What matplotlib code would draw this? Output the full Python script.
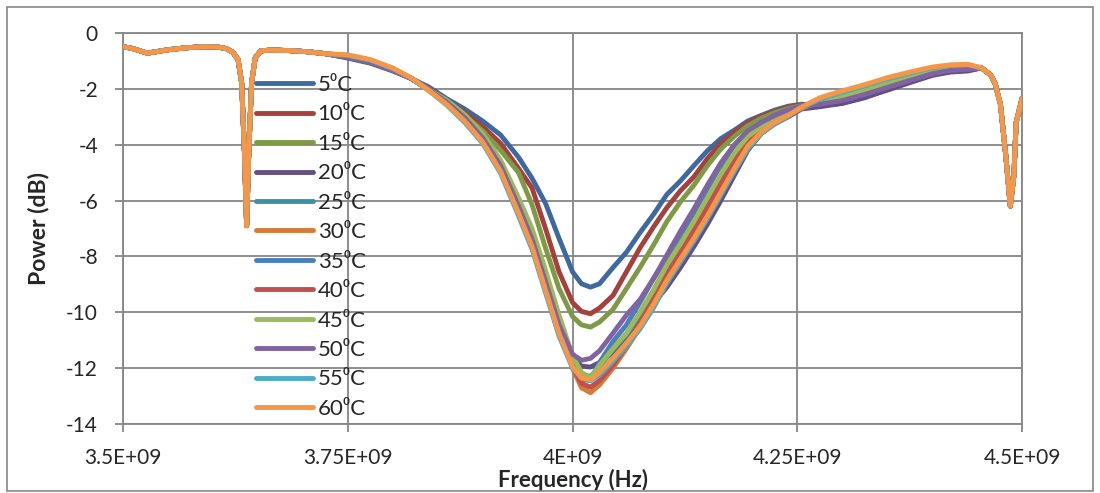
import matplotlib
matplotlib.use("Agg")
import matplotlib.pyplot as plt
import numpy as np
from matplotlib.patches import Rectangle

plt.rcParams['font.family'] = ['Lato', 'DejaVu Sans']

# ---------------- data (frequency in MHz, power in dB) ----------------
labels = ["5⁰C", "10⁰C", "15⁰C", "20⁰C", "25⁰C", "30⁰C",
          "35⁰C", "40⁰C", "45⁰C", "50⁰C", "55⁰C", "60⁰C"]
colors = ["#3E69A0", "#A5403D", "#7E9A47", "#654E87", "#3A91A8", "#D47B34",
          "#4A7EC0", "#C0504D", "#9BBB59", "#8064A2", "#4BACC6", "#F79646"]

# shared low-frequency part (all temperatures overlap)
freq_left = [3500, 3510, 3520, 3527, 3535, 3550, 3570, 3590, 3605, 3615, 3622,
             3628, 3632, 3635, 3637.5, 3640, 3643, 3647, 3653, 3665, 3685, 3705, 3725]
power_left = [-0.49, -0.55, -0.65, -0.72, -0.68, -0.60, -0.53, -0.49, -0.50, -0.56, -0.68,
              -0.95, -1.8, -4.2, -6.9, -4.2, -1.8, -0.9, -0.64, -0.61, -0.63, -0.67, -0.74]

# temperature-dependent main notch
freq_mid = [3750, 3775, 3800, 3820, 3840, 3860, 3880, 3900, 3920, 3940,
            3955, 3970, 3985, 4000, 4010, 4020, 4030, 4045, 4060, 4075,
            4090, 4105, 4120, 4135, 4150, 4165, 4180, 4195, 4210, 4225,
            4240, 4255, 4275, 4300, 4325, 4350, 4375, 4400, 4420, 4440]

p05 = [-0.90, -1.08, -1.36, -1.62, -1.93, -2.35, -2.72, -3.15, -3.65, -4.45,
       -5.20, -6.10, -7.35, -8.55, -8.98, -9.10, -8.98, -8.40, -7.85, -7.15,
       -6.50, -5.78, -5.30, -4.75, -4.22, -3.78, -3.48, -3.15, -2.95, -2.76,
       -2.62, -2.55, -2.60, -2.52, -2.32, -2.03, -1.76, -1.50, -1.38, -1.34]
p10 = [-0.88, -1.06, -1.34, -1.62, -1.98, -2.42, -2.85, -3.35, -3.95, -4.85,
       -5.55, -7.00, -8.55, -9.65, -9.97, -10.05, -9.85, -9.40, -8.55, -7.70,
       -6.95, -6.25, -5.65, -5.15, -4.50, -3.95, -3.55, -3.22, -2.98, -2.80,
       -2.65, -2.57, -2.56, -2.45, -2.25, -1.96, -1.70, -1.45, -1.33, -1.30]
p15 = [-0.87, -1.05, -1.33, -1.62, -2.00, -2.47, -2.95, -3.50, -4.20, -5.00,
       -6.15, -7.70, -9.15, -10.15, -10.45, -10.53, -10.35, -9.90, -9.15, -8.40,
       -7.60, -6.75, -6.05, -5.45, -4.75, -4.15, -3.70, -3.32, -3.05, -2.85,
       -2.70, -2.60, -2.52, -2.40, -2.20, -1.92, -1.67, -1.43, -1.31, -1.28]
p20 = [-0.86, -1.04, -1.33, -1.62, -2.02, -2.45, -3.00, -3.70, -4.70, -6.10,
       -7.30, -8.80, -10.35, -11.60, -11.93, -11.96, -11.80, -11.45, -10.95, -10.30,
       -9.70, -9.10, -8.40, -7.65, -6.85, -6.00, -5.10, -4.20, -3.60, -3.25,
       -3.00, -2.72, -2.64, -2.52, -2.30, -2.05, -1.78, -1.52, -1.40, -1.36]
p25 = [-0.85, -1.03, -1.32, -1.61, -2.03, -2.47, -3.03, -3.75, -4.75, -6.20,
       -7.38, -8.90, -10.45, -11.75, -12.20, -12.30, -11.95, -11.35, -10.80, -10.10,
       -9.30, -8.45, -7.70, -6.90, -6.10, -5.25, -4.45, -3.80, -3.40, -3.10,
       -2.85, -2.66, -2.50, -2.30, -2.08, -1.83, -1.60, -1.38, -1.27, -1.24]
p30 = [-0.82, -1.00, -1.30, -1.61, -2.04, -2.50, -3.08, -3.80, -4.82, -6.30,
       -7.45, -9.00, -10.60, -12.00, -12.70, -12.88, -12.60, -12.00, -11.30, -10.55,
       -9.75, -8.90, -8.10, -7.30, -6.50, -5.65, -4.80, -4.00, -3.55, -3.22,
       -2.95, -2.70, -2.45, -2.22, -2.00, -1.75, -1.53, -1.33, -1.23, -1.20]
p35 = [-0.86, -1.04, -1.33, -1.62, -2.02, -2.45, -3.00, -3.70, -4.70, -6.10,
       -7.30, -8.80, -10.35, -11.75, -12.40, -12.45, -11.80, -11.05, -10.45, -9.65,
       -8.80, -8.05, -7.30, -6.50, -5.65, -4.80, -4.03, -3.55, -3.20, -2.95,
       -2.75, -2.62, -2.45, -2.25, -2.03, -1.78, -1.56, -1.35, -1.25, -1.22]
p40 = [-0.84, -1.02, -1.31, -1.61, -2.04, -2.50, -3.08, -3.80, -4.82, -6.30,
       -7.45, -9.00, -10.60, -11.95, -12.55, -12.68, -12.45, -11.90, -11.20, -10.40,
       -9.55, -8.65, -7.85, -7.05, -6.25, -5.40, -4.60, -3.90, -3.45, -3.15,
       -2.90, -2.66, -2.42, -2.20, -1.98, -1.72, -1.50, -1.30, -1.20, -1.18]
p45 = [-0.84, -1.02, -1.31, -1.61, -2.03, -2.40, -2.92, -3.60, -4.55, -5.90,
       -7.00, -8.50, -10.10, -11.55, -12.15, -12.35, -11.90, -11.30, -10.75, -10.00,
       -9.20, -8.30, -7.55, -6.75, -5.90, -5.05, -4.30, -3.70, -3.35, -3.05,
       -2.85, -2.65, -2.48, -2.28, -2.05, -1.80, -1.58, -1.37, -1.26, -1.23]
p50 = [-0.86, -1.04, -1.33, -1.62, -2.03, -2.47, -3.03, -3.75, -4.75, -6.20,
       -7.38, -8.90, -10.45, -11.50, -11.72, -11.65, -11.38, -10.75, -10.10, -9.55,
       -8.80, -7.95, -7.10, -6.30, -5.45, -4.65, -4.00, -3.50, -3.20, -2.95,
       -2.75, -2.62, -2.55, -2.42, -2.20, -1.95, -1.70, -1.46, -1.34, -1.30]
p55 = [-0.80, -0.97, -1.27, -1.60, -2.06, -2.58, -3.20, -3.95, -5.02, -6.55,
       -7.75, -9.30, -10.85, -12.00, -12.35, -12.45, -12.25, -11.75, -11.20, -10.60,
       -9.85, -8.95, -8.20, -7.45, -6.65, -5.80, -4.95, -4.15, -3.60, -3.25,
       -2.97, -2.66, -2.38, -2.12, -1.90, -1.65, -1.44, -1.25, -1.16, -1.14]
p60 = [-0.78, -0.95, -1.25, -1.60, -2.05, -2.55, -3.15, -3.90, -4.95, -6.45,
       -7.65, -9.20, -10.75, -11.95, -12.35, -12.42, -12.15, -11.65, -11.10, -10.50,
       -9.72, -8.85, -8.10, -7.35, -6.55, -5.70, -4.85, -4.05, -3.55, -3.20,
       -2.95, -2.65, -2.32, -2.07, -1.85, -1.60, -1.40, -1.22, -1.14, -1.12]

# shared high-frequency part (second notch)
freq_right = [4455, 4465, 4470, 4476, 4482, 4487, 4491, 4493.5, 4497, 4500]
power_right = [-1.25, -1.50, -1.80, -2.55, -4.40, -6.20, -5.10, -3.20, -2.75, -2.35]

series = [p05, p10, p15, p20, p25, p30, p35, p40, p45, p50, p55, p60]

xtick_vals = [3.5e9, 3.75e9, 4.0e9, 4.25e9, 4.5e9]
xtick_labels = ["3.5E+09", "3.75E+09", "4E+09", "4.25E+09", "4.5E+09"]
ytick_vals = [0, -2, -4, -6, -8, -10, -12, -14]

# ---------------- figure ----------------
W, H = 1100, 493
fig = plt.figure(figsize=(W / 100, H / 100), dpi=100)
fig.patch.set_facecolor("white")
ax_bottom, ax_top = 424, 33
ax = fig.add_axes([123 / W, 1 - ax_bottom / H, (1022 - 123) / W, (ax_bottom - ax_top) / H])

grid_c = "#868686"
text_c = "#262626"

freq_all_mhz = freq_left + freq_mid + freq_right
f_hz = np.array(freq_all_mhz) * 1e6
lines = []
for vals, lab, col in zip(series, labels, colors):
    y = np.array(power_left + vals + power_right)
    ln, = ax.plot(f_hz, y, color=col, lw=3.5, label=lab,
                  solid_joinstyle="round", solid_capstyle="round", zorder=3)
    lines.append(ln)

ax.set_xlim(3.5e9, 4.5e9)
ax.set_ylim(-14, 0)
ax.set_xticks(xtick_vals)
ax.set_xticklabels(xtick_labels)
ax.set_yticks(ytick_vals)
ax.set_yticklabels([str(v) for v in ytick_vals])

ax.grid(True, color=grid_c, lw=1.3, zorder=0)
ax.set_axisbelow(True)
for s in ax.spines.values():
    s.set_color(grid_c)
    s.set_linewidth(1.3)
ax.tick_params(axis="both", colors=grid_c, length=6, width=1.3, direction="out",
               labelcolor=text_c, labelsize=15)
ax.tick_params(axis="x", pad=11)
ax.tick_params(axis="y", pad=12)

ax.set_xlabel("Frequency (Hz)", fontsize=16, fontweight="bold", color=text_c)
# place the x label just under the tick labels (top edge at ~469 px)
ax.xaxis.set_label_coords(0.5, (ax_bottom - 469) / (ax_bottom - ax_top))
ax.set_ylabel("Power (dB)", fontsize=16.5, fontweight="bold", color=text_c, labelpad=12)

leg = ax.legend(handles=lines, labels=labels, loc="upper left",
                bbox_to_anchor=(256 / W, 1 - 75 / H), bbox_transform=fig.transFigure,
                frameon=False, fontsize=16, handlelength=2.55, handletextpad=0.22,
                labelspacing=0.425, borderpad=0, borderaxespad=0)
for t in leg.get_texts():
    t.set_color(text_c)
leg.set_zorder(5)

# chart-area border
fig.add_artist(Rectangle((7 / W, 1 - 491 / H), (1093 - 7) / W, (491 - 7) / H,
                         transform=fig.transFigure, fill=False,
                         edgecolor=grid_c, lw=1.2))

fig.savefig("out.png", dpi=100, facecolor="white")
